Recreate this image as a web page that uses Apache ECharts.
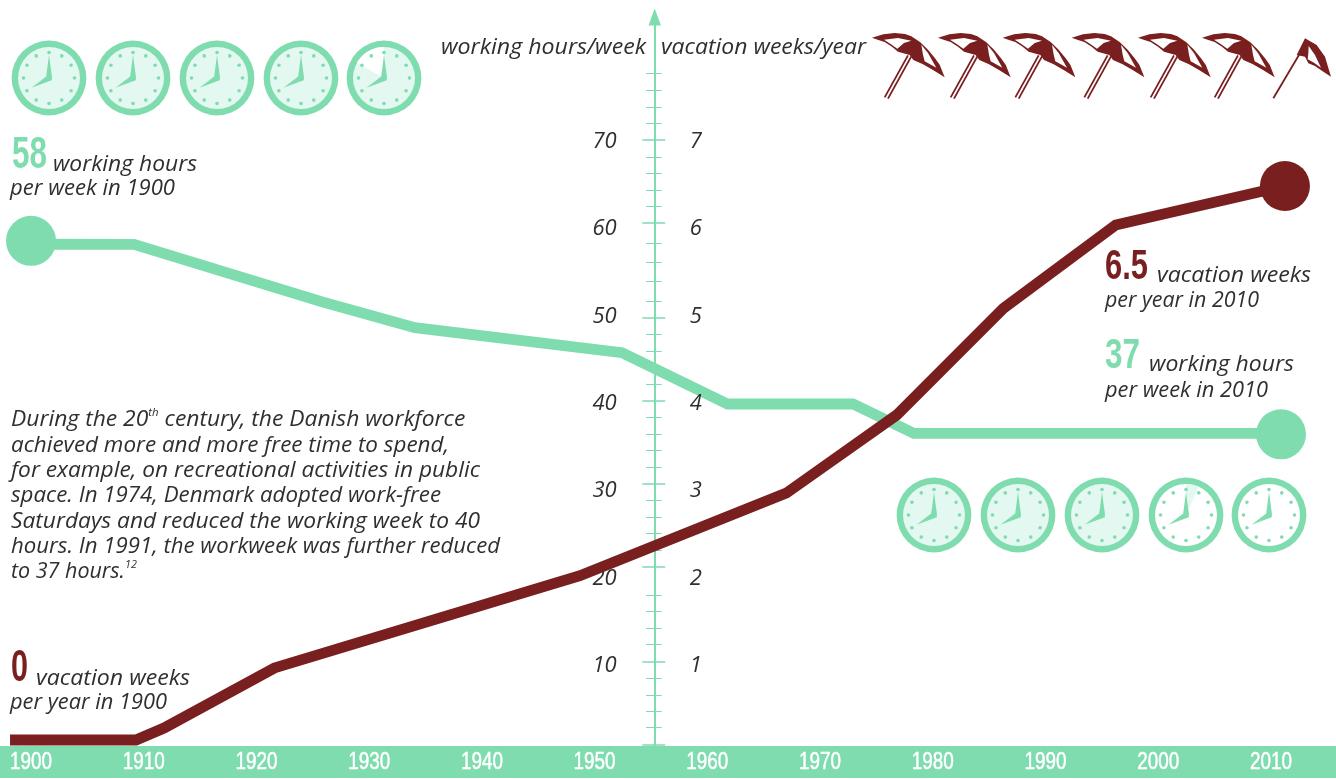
<!DOCTYPE html>
<html><head><meta charset="utf-8">
<style>html,body{margin:0;padding:0;background:#fff}#c{width:1336px;height:779px}</style>
<script src="https://cdn.jsdelivr.net/npm/echarts@6/dist/echarts.min.js"></script>
</head><body><div id="c"></div>
<script>
// ---- data ----
const workYears  = [1900, 1909.14, 1925.76, 1934.06, 1952.43, 1961.8, 1972.92, 1978.32, 2010.89];
const workHours  = [58.05, 58.04, 51.47, 48.49, 45.62, 39.75, 39.75, 36.39, 36.39];
const vacYears   = [1898.14, 1909.31, 1911.8, 1921.6, 1948.7, 1967.01, 1976.8, 1986.26, 1996.23, 2011.24];
const vacWeeks   = [0.126, 0.126, 0.263, 0.952, 2.008, 2.955, 3.849, 5.071, 6.025, 6.472];
const workEnds   = [[1900, 58.44], [2010.89, 36.28]];
const vacEnds    = [[2011.24, 6.472]];
const yearTicks  = [1900,1910,1920,1930,1940,1950,1960,1970,1980,1990,2000,2010];
const hourLabels = [10,20,30,40,50,60,70];
const weekLabels = [1,2,3,4,5,6,7];
// the printed ticks are not evenly spaced, so they are read one by one (hours scale)
const majorTicks = [0.69,10.23,21.11,30.62,40.09,49.63,60.52,70];
const minorTicks = [2.67,4.55,6.41,8.33,12.18,14.05,15.96,17.84,23.02,24.94,26.8,28.72,32.53,34.44,36.31,38.22,42,43.87,45.82,47.73,51.55,53.76,55.93,58.15,62.35,64.26,66.17,68.07,71.93,73.77,75.72,77.66];

const GREEN='#7fdcae', MAROON='#7a1f1f', INK='#2f2f2f', FACE='#e2f8f0';
const ITALIC='"Open Sans"', NARROW='"Liberation Sans"';

// ---- decoration helpers ----
const cv=document.createElement('canvas').getContext('2d');
function fit(str,font,w){cv.font=font;return w/cv.measureText(str.replace(/\{\w+\|[^}]*\}/g,'')).width;}
function txt(x,base,str,w,size){
  const font='italic '+size+'px '+ITALIC;
  return {type:'text',silent:true,z:6,x:x,y:base-0.30*size,scaleX:fit(str,font,w),style:{x:0,y:0,text:str,fill:INK,font:font,verticalAlign:'middle',
    rich:{s:{fontStyle:'italic',fontFamily:ITALIC,fontSize:11,fill:INK,verticalAlign:'top',lineHeight:24}}}};
}
function big(x,top,bottom,str,w,fill){
  const size=44,font='bold '+size+'px '+NARROW;
  const sy=(bottom-top)/(size*0.72);
  return {type:'text',silent:true,z:6,x:x,y:(top+bottom)/2,scaleX:fit(str,font,w),scaleY:sy,style:{x:0,y:0,text:str,fill:fill,font:font,verticalAlign:'middle'}};
}
function clock(cx,cy,mode,out){
  out.push({type:'circle',silent:true,z:6,shape:{cx:cx,cy:cy,r:37.4},style:{fill:GREEN}});
  out.push({type:'circle',silent:true,z:6,shape:{cx:cx,cy:cy,r:31},style:{fill:mode==='empty'||mode==='sliver'?'#fff':FACE}});
  if(mode==='notch') out.push({type:'sector',silent:true,z:6,shape:{cx:cx,cy:cy,r0:0,r:31,startAngle:-Math.PI*0.5-1.07,endAngle:-Math.PI*0.5},style:{fill:'#fff'}});
  if(mode==='sliver') out.push({type:'sector',silent:true,z:6,shape:{cx:cx,cy:cy,r0:0,r:31,startAngle:-Math.PI*0.5,endAngle:-Math.PI*0.5+0.42},style:{fill:FACE}});
  for(let i=0;i<12;i++){const a=i*Math.PI/6;
    out.push({type:'circle',silent:true,z:6,shape:{cx:cx+25.5*Math.sin(a),cy:cy-25.5*Math.cos(a),r:1.8},style:{fill:GREEN}});}
  out.push({type:'polygon',silent:true,z:6,shape:{points:[[0,-23],[3,-0.5],[2.7,2.2],[-17.5,9.7],[-2.8,-1.5]].map(p=>[cx+p[0],cy+p[1]])},style:{fill:GREEN}});
}
const canopy=[[36,53],[70,43],[104,39],[135,42],[154,49],[180,66],[204,89],[225,115],[239,134],[254,172],[219,150],[189,133],[160,120],[149,105],[114,95],[96,80],[74,66],[55,60]];
const panelL=[[72,59],[114,54],[154,62],[132,69],[112,86],[92,72]];
const panelR=[[184,74],[204,99],[229,143],[194,124],[189,104]];
const canopyCut=[[180,55],[215,75],[240,110],[258,170],[235,155],[210,138],[190,130],[180,110],[155,105]];
const panelCut=[[191,78],[210,105],[228,143],[207,128],[188,118],[190,100]];
function umbrella(off,cut,out){
  const m=p=>[860+(p[0]+off)/3,20+p[1]/3];
  const poly=(pts,fill)=>out.push({type:'polygon',silent:true,z:6,shape:{points:pts.map(m)},style:{fill:fill}});
  const line=(a,b)=>{const A=m(a),B=m(b);out.push({type:'line',silent:true,z:6,shape:{x1:A[0],y1:A[1],x2:B[0],y2:B[1]},style:{stroke:MAROON,lineWidth:1.8}});};
  if(cut){line([165,100],[85,235]);poly(canopyCut,MAROON);poly(panelCut,'#fff');}
  else{line([144,106],[74,232]);line([154,109],[84,236]);poly(canopy,MAROON);poly(panelL,'#fff');poly(panelR,'#fff');}
}

// ---- axes: one shared scale, labels/long ticks and short ticks on each side ----
const X0=654.7;
function yAxisBase(max,pos,off){return {type:'value',min:0,max:max,position:pos,offset:off,splitLine:{show:false},z:3};}
const tickStyle={color:GREEN,width:1};
const labelFont={formatter:v=>'{a|'+v+'}',rich:{a:{color:INK,fontFamily:ITALIC,fontStyle:'italic',fontSize:22,padding:[4,0,0,0]}}};
const yAxes=[
 Object.assign(yAxisBase(84.08,'left',-X0),{
   axisLine:{show:true,onZero:false,symbol:['none','triangle'],symbolSize:[12.5,17],lineStyle:{color:GREEN,width:2}},
   axisTick:{show:true,length:12.3,customValues:majorTicks,lineStyle:{color:GREEN,width:1.5}},
   axisLabel:Object.assign({show:true,customValues:hourLabels,margin:38},labelFont)}),
 Object.assign(yAxisBase(8.408,'right',-(1336-X0)),{
   axisLine:{show:false,onZero:false},
   axisTick:{show:true,length:10.5,customValues:majorTicks.map(v=>v/10),lineStyle:{color:GREEN,width:1.5}},
   axisLabel:Object.assign({show:true,customValues:weekLabels,margin:35},labelFont)}),
 Object.assign(yAxisBase(84.08,'left',-X0),{
   axisLine:{show:false,onZero:false},axisLabel:{show:false},
   axisTick:{show:true,length:8.6,customValues:minorTicks,lineStyle:tickStyle}}),
 Object.assign(yAxisBase(84.08,'right',-(1336-X0)),{
   axisLine:{show:false,onZero:false},axisLabel:{show:false},
   axisTick:{show:true,length:7,customValues:minorTicks,lineStyle:tickStyle}})
];
const zip=(a,b)=>a.map((v,i)=>[v,b[i]]);
const chart=echarts.init(document.getElementById('c'),null,{renderer:'canvas'});
chart.setOption({
  animation:false,backgroundColor:'#fff',tooltip:{show:false},
  grid:{left:0,right:0,top:17,bottom:28},
  xAxis:{type:'value',min:1897.25,max:2015.77,splitLine:{show:false},axisLine:{show:false},axisTick:{show:false},axisLabel:{show:false}},
  yAxis:yAxes,
  series:[
    {name:'working hours/week',type:'line',yAxisIndex:0,clip:false,z:2,symbol:'none',data:zip(workYears,workHours),
     lineStyle:{color:GREEN,width:10.8,join:'miter',cap:'butt'}},
    {name:'vacation weeks/year',type:'line',yAxisIndex:1,clip:false,z:3,symbol:'none',data:zip(vacYears,vacWeeks),
     lineStyle:{color:MAROON,width:10.8,join:'miter',cap:'butt'}},
    {name:'hours ends',type:'scatter',yAxisIndex:0,clip:false,z:2,symbolSize:50,data:workEnds,itemStyle:{color:GREEN,opacity:1}},
    {name:'weeks ends',type:'scatter',yAxisIndex:1,clip:false,z:3,symbolSize:50,data:vacEnds,itemStyle:{color:MAROON,opacity:1}}
  ]
});

// ---- band, year labels placed by the x scale, pictograms, annotations ----
const gfx=[];
gfx.push({type:'rect',silent:true,z:5,shape:{x:0,y:746,width:1336,height:32},style:{fill:GREEN}});
const yearFont='24px '+NARROW;
yearTicks.forEach(y=>{
  const s=String(y);
  gfx.push({type:'text',silent:true,z:6,x:chart.convertToPixel({xAxisIndex:0},y),y:762,scaleX:fit(s,yearFont,42),
    style:{x:0,y:0,text:s,fill:'#fff',stroke:'#fff',lineWidth:0.5,font:yearFont,align:'center',verticalAlign:'middle'}});
});
[49,133,217,301].forEach(x=>clock(x,78,'full',gfx)); clock(384,78,'notch',gfx);
[934,1018,1102].forEach(x=>clock(x,515,'full',gfx)); clock(1186,515,'sliver',gfx); clock(1269,515,'empty',gfx);
[0,198,392,599,798,990].forEach(o=>umbrella(o,false,gfx)); umbrella(1155,true,gfx);
gfx.push(txt(441,54,'working hours/week',205,22), txt(661,54,'vacation weeks/year',205,22));
gfx.push(big(12,140,172,'58',35,GREEN), txt(53,171,'working hours',144,22), txt(10,195,'per week in 1900',165,22));
gfx.push(big(11,653,685,'0',17,MAROON), txt(36,685,'vacation weeks',154,22), txt(10,709,'per year in 1900',157,22));
gfx.push(big(1105,252,283,'6.5',43,MAROON), txt(1157,282,'vacation weeks',154,22), txt(1105,307,'per year in 2010',154,22));
gfx.push(big(1105,341,372,'37',35,GREEN), txt(1149,371,'working hours',145,22), txt(1105,397,'per week in 2010',163,22));
[['During the 20{s|th} century, the Danish workforce',444,426],
 ['achieved more and more free time to spend,',438,452],
 ['for example, on recreational activities in public',469,477],
 ['space. In 1974, Denmark adopted work-free',430,502],
 ['Saturdays and reduced the working week to 40',469,528],
 ['hours. In 1991, the workweek was further reduced',489,553],
 ['to 37 hours.{s|12}',114,578]].forEach(l=>gfx.push(txt(11,l[2],l[0],l[1],22)));
chart.setOption({graphic:{elements:gfx}});
</script></body></html>
